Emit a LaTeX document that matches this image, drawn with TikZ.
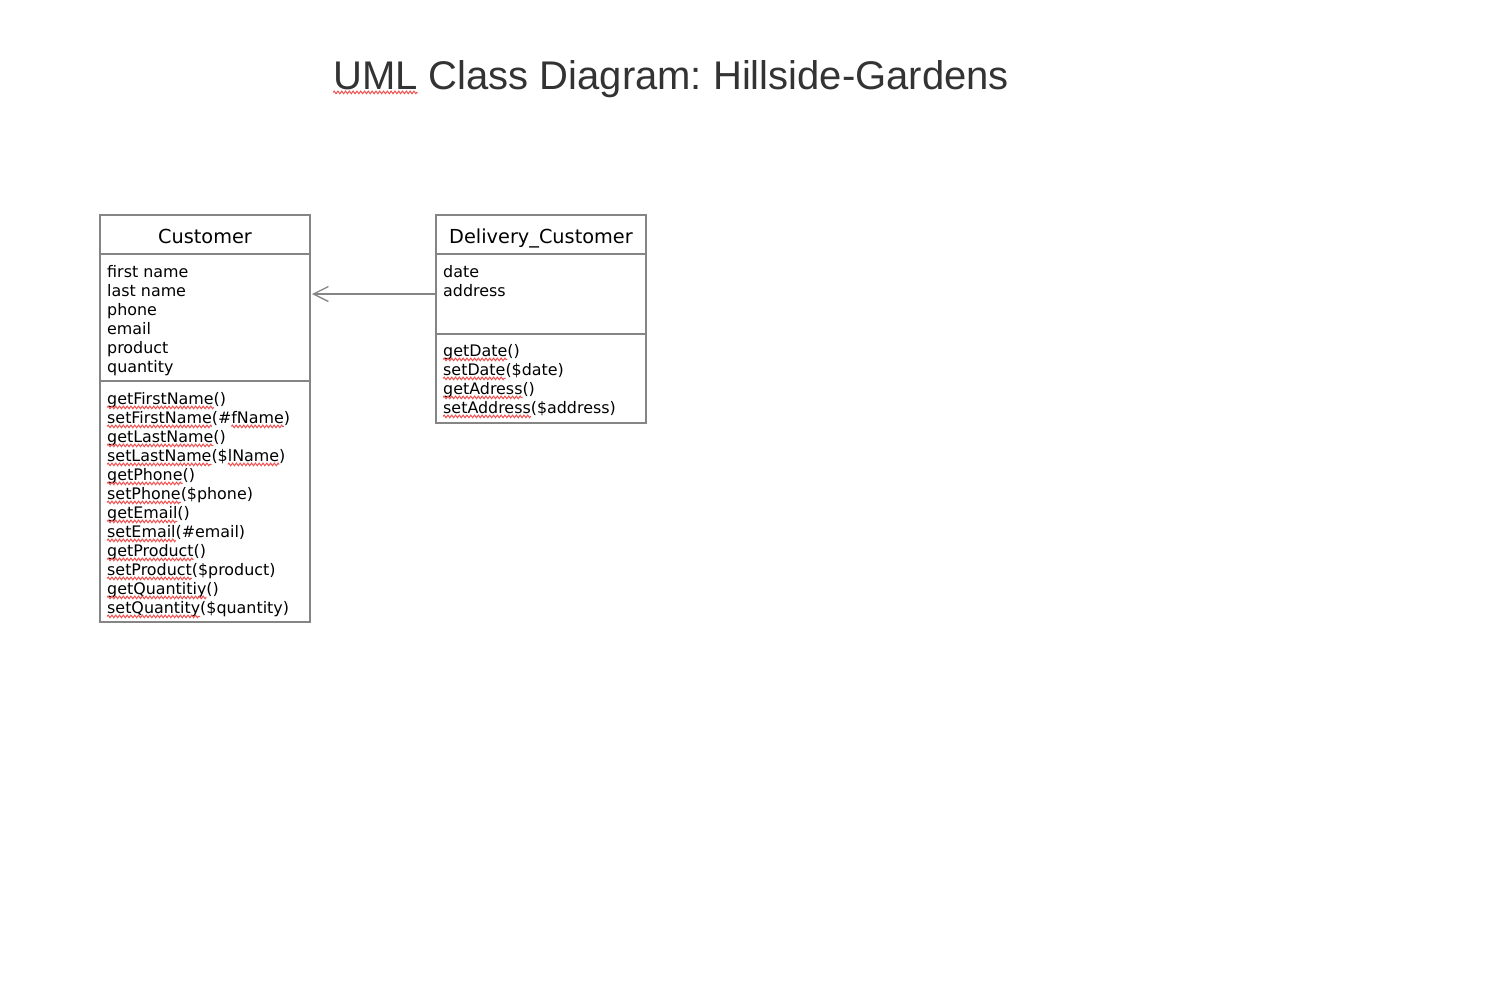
\documentclass[tikz,border=0pt]{standalone}
\usepackage{fontspec}
\usetikzlibrary{arrows.meta,decorations.pathmorphing}
\setmainfont{DejaVu Sans}
\newfontfamily\titlefont{Liberation Sans}
\definecolor{boxgray}{HTML}{858585}
\definecolor{titlegray}{HTML}{333333}
\definecolor{squig}{HTML}{F05050}
\frenchspacing
\newsavebox\sqbox
\newlength\sqwd
\newcommand\sq[1]{\sbox\sqbox{#1}\setlength\sqwd{\wd\sqbox}\leavevmode\rlap{\usebox\sqbox}\tikz[overlay,baseline=0pt,x=1pt,y=1pt]\draw[squig,line width=1pt,decorate,decoration={zigzag,amplitude=1.3pt,segment length=3.8pt}] (0,-3.4) -- (\the\sqwd,-3.4);\hspace{\sqwd}}
\tikzset{
  compart/.style={draw=boxgray, line width=1.5pt, anchor=north west, minimum width=210pt, inner sep=0pt, outer sep=0pt, fill=white},
  txt/.style={anchor=base west, inner sep=0pt, font=\fontsize{15.9}{19}\selectfont},
  hdr/.style={anchor=base, inner sep=0pt, font=\fontsize{19.3}{22}\selectfont},
  assoc/.style={draw=boxgray, line width=1.3pt, -{Straight Barb[length=15pt,width=15pt,line width=1.3pt]}}
}
\begin{document}
\begin{tikzpicture}[x=1pt,y=-1pt]
\useasboundingbox[fill=white] (0,0) rectangle (1497,998);
% title
\node[anchor=base west, inner sep=0pt, text=titlegray, font=\titlefont\fontsize{40}{48}\selectfont] (title) at (333,89) {\sq{UML} Class Diagram: Hillside-Gardens};
% Customer class
\node[compart, minimum height=39pt] (cust) at (100,215) {};
\node[compart, minimum height=127pt] (custattr) at (100,254) {};
\node[compart, minimum height=241pt] (custops) at (100,381) {};
\node[hdr] (custname) at (205,243) {Customer};
\node[txt] (ca1) at (107,277) {first name};
\node[txt] (ca2) at (107,296) {last name};
\node[txt] (ca3) at (107,315) {phone};
\node[txt] (ca4) at (107,334) {email};
\node[txt] (ca5) at (107,353) {product};
\node[txt] (ca6) at (107,372) {quantity};
\node[txt] (co1) at (107,404) {\sq{getFirstName}()};
\node[txt] (co2) at (107,423) {\sq{setFirstName}(\#\sq{fName})};
\node[txt] (co3) at (107,442) {\sq{getLastName}()};
\node[txt] (co4) at (107,461) {\sq{setLastName}(\$\sq{lName})};
\node[txt] (co5) at (107,480) {\sq{getPhone}()};
\node[txt] (co6) at (107,499) {\sq{setPhone}(\$phone)};
\node[txt] (co7) at (107,518) {\sq{getEmail}()};
\node[txt] (co8) at (107,537) {\sq{setEmail}(\#email)};
\node[txt] (co9) at (107,556) {\sq{getProduct}()};
\node[txt] (co10) at (107,575) {\sq{setProduct}(\$product)};
\node[txt] (co11) at (107,594) {\sq{getQuantitiy}()};
\node[txt] (co12) at (107,613) {\sq{setQuantity}(\$quantity)};
% Delivery_Customer class
\node[compart, minimum height=39pt] (del) at (436,215) {};
\node[compart, minimum height=80pt] (delattr) at (436,254) {};
\node[compart, minimum height=89pt] (delops) at (436,334) {};
\node[hdr] (delname) at (541,243) {Delivery\_Customer};
\node[txt] (da1) at (443,277) {date};
\node[txt] (da2) at (443,296) {address};
\node[txt] (do1) at (443,356) {\sq{getDate}()};
\node[txt] (do2) at (443,375) {\sq{setDate}(\$date)};
\node[txt] (do3) at (443,394) {\sq{getAdress}()};
\node[txt] (do4) at (443,413) {\sq{setAddress}(\$address)};
% association
\draw[assoc, shorten >=2pt] (delattr.west) -- (delattr.west -| custattr.east);
\end{tikzpicture}
\end{document}
